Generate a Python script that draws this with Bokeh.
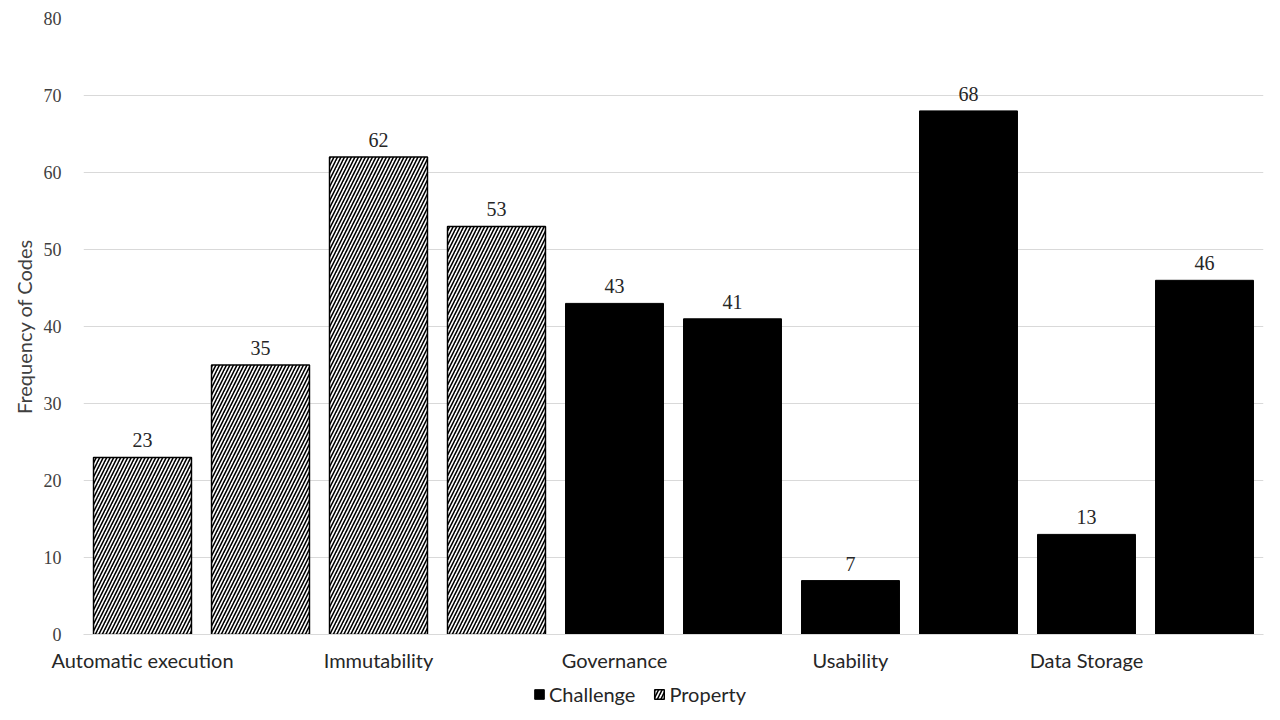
from bokeh.plotting import figure
from bokeh.layouts import column
from bokeh.models import ColumnDataSource, FixedTicker, Legend, LegendItem, LabelSet
from bokeh.embed import file_html
from bokeh.resources import INLINE

categories = ["Automatic execution", "", "Immutability", "", "Governance", "",
              "Usability", "", "Data Storage", ""]
values = [23, 35, 62, 53, 43, 41, 7, 68, 13, 46]
kinds = ["Property"] * 4 + ["Challenge"] * 6
y_ticks = [0, 10, 20, 30, 40, 50, 60, 70, 80]

xs = list(range(len(values)))
prop = ColumnDataSource(dict(x=[x for x, k in zip(xs, kinds) if k == "Property"],
                             top=[v for v, k in zip(values, kinds) if k == "Property"]))
chal = ColumnDataSource(dict(x=[x for x, k in zip(xs, kinds) if k == "Challenge"],
                             top=[v for v, k in zip(values, kinds) if k == "Challenge"]))
alls = ColumnDataSource(dict(x=xs, top=values, lab=[str(v) for v in values]))

SANS = "Lato"
SERIF = "Liberation Serif"

PROP_STYLE = dict(fill_color="white", line_color="black", line_width=1.5,
                  hatch_pattern="/", hatch_color="black", hatch_scale=7, hatch_weight=1.6)
CHAL_STYLE = dict(fill_color="black", line_color="black", line_width=1)

p = figure(frame_width=1180, frame_height=616, x_range=(-0.5, 9.5), y_range=(0, 80),
           output_backend="svg", toolbar_location=None,
           min_border_left=83, min_border_right=1, min_border_top=18, min_border_bottom=47)
p.outline_line_color = None
p.xgrid.grid_line_color = None
p.ygrid.grid_line_color = "#d9d9d9"
p.ygrid.ticker = FixedTicker(ticks=y_ticks)

p.vbar(x="x", top="top", width=0.83, source=prop, **PROP_STYLE)
p.vbar(x="x", top="top", width=0.83, source=chal, **CHAL_STYLE)

labels = LabelSet(x="x", y="top", text="lab", source=alls, text_align="center",
                  text_baseline="bottom", y_offset=10, text_font=SERIF,
                  text_font_size="20px", text_color="#262626")
p.add_layout(labels)

p.yaxis.ticker = FixedTicker(ticks=y_ticks)
p.yaxis.axis_line_color = None
p.yaxis.major_tick_line_color = None
p.yaxis.minor_tick_line_color = None
p.yaxis.major_label_text_font = SERIF
p.yaxis.major_label_text_font_size = "18px"
p.yaxis.major_label_text_color = "#404040"
p.yaxis.major_label_standoff = 16
p.yaxis.axis_label = "Frequency of Codes"
p.yaxis.axis_label_text_font = SANS
p.yaxis.axis_label_text_font_style = "normal"
p.yaxis.axis_label_text_font_size = "20px"
p.yaxis.axis_label_text_color = "#404040"
p.yaxis.axis_label_standoff = 5

p.xaxis.ticker = FixedTicker(ticks=[i for i, c in enumerate(categories) if c])
p.xaxis.major_label_overrides = {i: c for i, c in enumerate(categories) if c}
p.xaxis.axis_line_color = "#d9d9d9"
p.xaxis.axis_line_width = 1
p.xaxis.major_tick_line_color = None
p.xaxis.minor_tick_line_color = None
p.xaxis.major_label_text_font = SANS
p.xaxis.major_label_text_font_size = "20px"
p.xaxis.major_label_text_color = "#262626"
p.xaxis.major_label_standoff = 7

# legend strip below the chart (its renderers are hidden; only the legend shows)
lg = figure(frame_width=1180, height=26, x_range=(-0.5, 9.5), y_range=(1000, 1001),
            output_backend="svg", toolbar_location=None,
            min_border_left=83, min_border_right=1, min_border_top=0, min_border_bottom=0)
lg.axis.visible = False
lg.grid.visible = False
lg.outline_line_color = None
r_chal = lg.vbar(x="x", top="top", width=0.83, source=chal, **CHAL_STYLE)
r_prop = lg.vbar(x="x", top="top", width=0.83, source=prop, **PROP_STYLE)
r_chal.visible = False
r_prop.visible = False
legend = Legend(items=[LegendItem(label="Challenge", renderers=[r_chal]),
                       LegendItem(label="Property", renderers=[r_prop])],
                orientation="horizontal", location=(450, 1),
                label_text_font=SANS, label_text_font_size="20px",
                label_text_color="#262626", glyph_width=12, glyph_height=12,
                label_standoff=4, spacing=18, border_line_color=None,
                background_fill_alpha=0, padding=2, margin=0, click_policy="none")
lg.add_layout(legend, "center")

layout = column(p, lg, spacing=0)
open("out.html", "w").write(file_html(layout, INLINE))
